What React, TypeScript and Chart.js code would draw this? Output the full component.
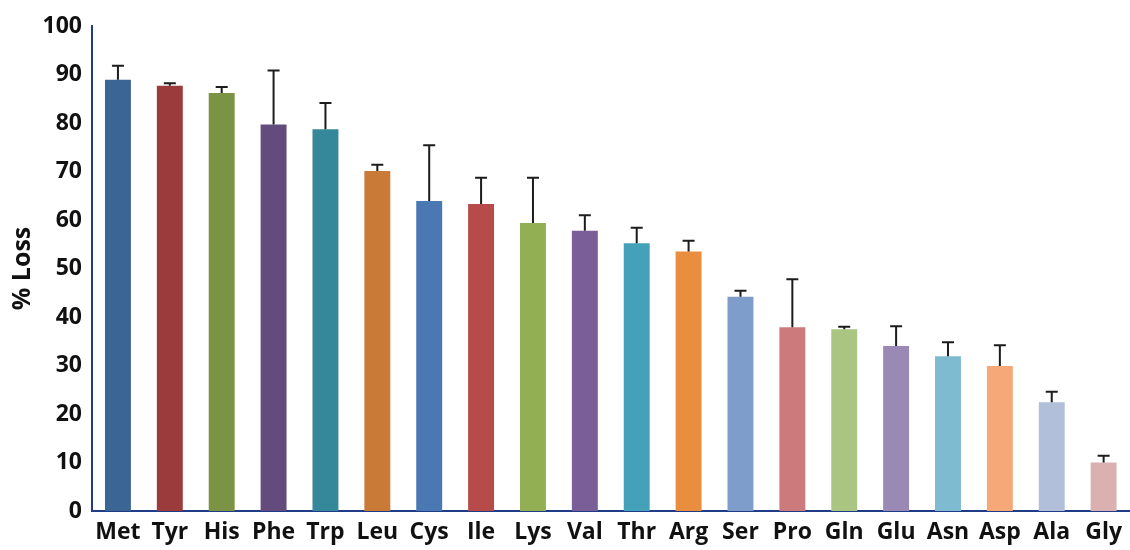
import React, { useEffect, useRef } from "react";
import { Chart, registerables } from "chart.js";

Chart.register(...registerables);

const categories = ["Met", "Tyr", "His", "Phe", "Trp", "Leu", "Cys", "Ile", "Lys", "Val", "Thr", "Arg", "Ser", "Pro", "Gln", "Glu", "Asn", "Asp", "Ala", "Gly"];
const lossValues = [88.9, 87.7, 86.2, 79.7, 78.7, 70.1, 63.9, 63.3, 59.4, 57.8, 55.2, 53.5, 44.2, 37.9, 37.5, 34.0, 31.9, 29.9, 22.4, 10.0];
const errorValues = [2.9, 0.5, 1.2, 11.1, 5.4, 1.3, 11.5, 5.4, 9.3, 3.2, 3.2, 2.2, 1.2, 9.9, 0.5, 4.1, 2.9, 4.3, 2.2, 1.4];
const barColors = ["#3A6595", "#9B3B3B", "#7A9444", "#634B7E", "#35879A", "#C97A36", "#4A78B2", "#B64B4A", "#93AF53", "#7A5E98", "#45A0BA", "#E98D3E", "#7F9DCB", "#CC7A7C", "#AAC582", "#9A89B5", "#7EBBD0", "#F6A878", "#B1BFDA", "#DAB0B0"];
const yTicks = [0, 10, 20, 30, 40, 50, 60, 70, 80, 90, 100];

const errorBarPlugin = {
  id: "errorBars",
  afterDatasetsDraw(chart: any) {
    const ctx = chart.ctx;
    const meta = chart.getDatasetMeta(0);
    const y = chart.scales.y;
    ctx.save();
    ctx.strokeStyle = "#1c1c1c";
    ctx.lineWidth = 2;
    meta.data.forEach((bar: any, i: number) => {
      const x = bar.x;
      const y0 = y.getPixelForValue(lossValues[i]);
      const y1 = y.getPixelForValue(lossValues[i] + errorValues[i]);
      ctx.beginPath();
      ctx.moveTo(x, y0);
      ctx.lineTo(x, y1);
      ctx.moveTo(x - 6, y1);
      ctx.lineTo(x + 6, y1);
      ctx.stroke();
    });
    ctx.restore();
  },
};

export default function App() {
  const ref = useRef<HTMLCanvasElement>(null);
  useEffect(() => {
    const chart = new Chart(ref.current!, {
      type: "bar",
      data: {
        labels: categories,
        datasets: [
          {
            data: lossValues,
            backgroundColor: barColors,
            borderWidth: 0,
            categoryPercentage: 1,
            barPercentage: 0.5,
          },
        ],
      },
      options: {
        animation: false,
        responsive: false,
        maintainAspectRatio: false,
        layout: { padding: { top: 26, left: 0, right: 0, bottom: 0 } },
        plugins: { legend: { display: false }, tooltip: { enabled: false } },
        scales: {
          x: {
            grid: { display: false, drawTicks: false },
            border: { color: "#1F3C88", width: 2 },
            ticks: {
              color: "#111",
              padding: 8,
              font: { family: "Open Sans", size: 23, weight: "bold" },
              maxRotation: 0,
              autoSkip: false,
            },
            afterFit: (s: any) => {
              s.height = 39;
            },
          },
          y: {
            min: 0,
            max: 100,
            afterBuildTicks: (s: any) => {
              s.ticks = yTicks.map((v) => ({ value: v }));
            },
            grid: { display: false, drawTicks: false },
            border: { color: "#1F3C88", width: 2 },
            ticks: {
              color: "#111",
              padding: 10,
              font: { family: "Open Sans", size: 23, weight: "bold" },
            },
            title: {
              display: true,
              text: "% Loss",
              color: "#111",
              font: { family: "Open Sans", size: 25, weight: "bold" },
              padding: { top: 8, bottom: 0 },
            },
            afterFit: (s: any) => {
              s.width = 92;
            },
          },
        },
      },
      plugins: [errorBarPlugin],
    });
    return () => chart.destroy();
  }, []);
  return (
    <div style={{ position: "fixed", left: 0, top: 0, width: 1130, height: 550, background: "#fff" }}>
      <canvas ref={ref} width={1130} height={550} />
    </div>
  );
}
